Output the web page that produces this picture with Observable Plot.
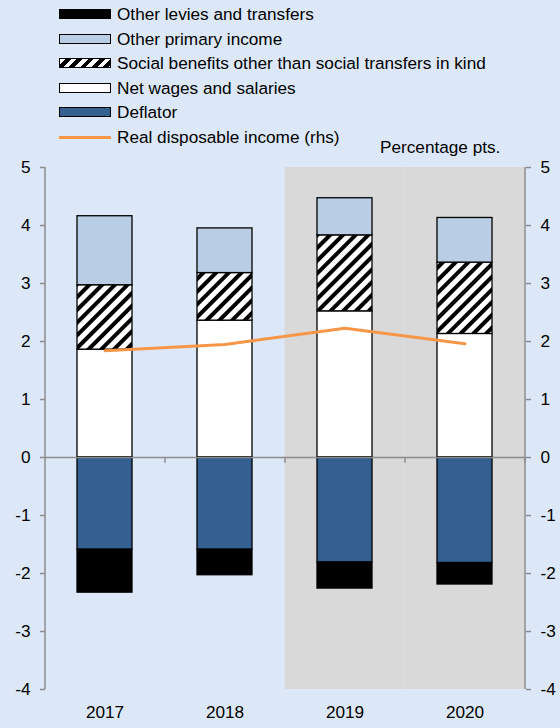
<!DOCTYPE html>
<html>
<head>
<meta charset="utf-8">
<script src="https://cdn.jsdelivr.net/npm/d3@7"></script>
<script src="https://cdn.jsdelivr.net/npm/@observablehq/plot@0.6"></script>
<style>
  html, body { margin: 0; padding: 0; background: #dce8f7; }
  body { width: 560px; height: 728px; position: relative; overflow: hidden;
         font-family: "Liberation Sans", Arial, sans-serif; color: #000; }
  #legend { position: absolute; left: 0; top: 0; width: 560px; height: 155px; }
  .item { position: absolute; left: 59px; height: 20px; display: flex; align-items: center; font-size: 17.2px; white-space: nowrap; }
  .sw { width: 50px; height: 8px; border: 1px solid #000; margin-right: 6px; box-sizing: content-box; }
  .swline { width: 52px; height: 3px; margin-right: 6px; }
  #unit { position: absolute; left: 380px; top: 137px; font-size: 17.2px; }
  #chart { position: absolute; left: 0; top: 155px; }
</style>
</head>
<body>
<div id="legend"></div>
<div id="unit">Percentage pts.</div>
<div id="chart"></div>
<script>
// ---- data ----
const years = ["2017", "2018", "2019", "2020"];
const wages = [1.86, 2.36, 2.52, 2.13];              // Net wages and salaries
const socialBenefits = [1.11, 0.82, 1.31, 1.23];      // Social benefits other than social transfers in kind
const otherPrimary = [1.19, 0.77, 0.64, 0.77];        // Other primary income
const deflator = [-1.59, -1.59, -1.81, -1.82];        // Deflator
const levies = [-0.74, -0.44, -0.45, -0.37];          // Other levies and transfers
const realIncome = [1.84, 1.95, 2.23, 1.96];          // Real disposable income (rhs)
const shadedYears = ["2019", "2020"];
const yTicks = [-4, -3, -2, -1, 0, 1, 2, 3, 4, 5];

const seriesNames = [
  "Net wages and salaries",
  "Social benefits other than social transfers in kind",
  "Other primary income",
  "Deflator",
  "Other levies and transfers"
];
const seriesValues = [wages, socialBenefits, otherPrimary, deflator, levies];
const seriesFills = ["#ffffff", "url(#hatch)", "#b9cde5", "#335f91", "#000000"];
const lineName = "Real disposable income (rhs)";
const lineColor = "#f79646";

const legendOrder = [
  "Other levies and transfers",
  "Other primary income",
  "Social benefits other than social transfers in kind",
  "Net wages and salaries",
  "Deflator"
];

// ---- long table ----
const rows = [];
seriesNames.forEach((s, i) => years.forEach((y, j) => rows.push({year: y, series: s, value: seriesValues[i][j]})));
const lineRows = years.map((y, j) => ({year: y, value: realIncome[j]}));

// ---- legend ----
const legend = document.getElementById("legend");
const legendTops = [4, 29, 53, 78, 102, 127];
legendOrder.forEach((name, k) => {
  const fill = seriesFills[seriesNames.indexOf(name)];
  const div = document.createElement("div");
  div.className = "item";
  div.style.top = legendTops[k] + "px";
  const sw = document.createElement("span");
  sw.className = "sw";
  if (fill.startsWith("url")) {
    sw.style.background = "repeating-linear-gradient(135deg, #fff 0 4px, #000 4px 8px)";
  } else {
    sw.style.background = fill;
  }
  div.appendChild(sw);
  div.appendChild(document.createTextNode(name));
  legend.appendChild(div);
});
{
  const div = document.createElement("div");
  div.className = "item";
  div.style.top = legendTops[5] + "px";
  const sw = document.createElement("span");
  sw.className = "swline";
  sw.style.background = lineColor;
  div.appendChild(sw);
  div.appendChild(document.createTextNode(lineName));
  legend.appendChild(div);
}

// ---- chart ----
const W = 560, H = 573;
const mL = 45, mR = 35;
const step = (W - mL - mR) / years.length;
const padIn = 0.54;
const halfGap = step * padIn / 2;

const chart = Plot.plot({
  width: W,
  height: H,
  marginLeft: mL,
  marginRight: mR,
  marginTop: 12,
  marginBottom: 39,
  style: {background: "transparent", fontSize: "17.2px", fontFamily: "'Liberation Sans', Arial, sans-serif", color: "#000"},
  x: {domain: years, paddingInner: padIn, paddingOuter: padIn / 2, label: null},
  y: {domain: [-4, 5], label: null},
  color: {domain: seriesNames, range: seriesFills},
  marks: [
    // shaded forecast region
    Plot.barY(shadedYears, {x: d => d, y1: -4, y2: 5, fill: "#d9d9d9", insetLeft: -halfGap, insetRight: -halfGap}),
    // stacked bars
    Plot.barY(rows, Plot.stackY({order: seriesNames}, {x: "year", y: "value", z: "series", fill: "series", stroke: "#000", strokeWidth: 1.3})),
    // zero line and category ticks
    Plot.ruleY([0], {stroke: "#8c8c8c", strokeWidth: 1.5}),
    Plot.ruleX(years, {x: d => d, y1: 0, y2: -0.1, dx: step / 2, stroke: "#8c8c8c", strokeWidth: 1.5}),
    // axis lines
    Plot.ruleX([years[0]], {x: d => d, y1: -4, y2: 5, dx: -step / 2, stroke: "#8c8c8c", strokeWidth: 1.5}),
    Plot.ruleX([years[years.length - 1]], {x: d => d, y1: -4, y2: 5, dx: step / 2, stroke: "#8c8c8c", strokeWidth: 1.5}),
    // line
    Plot.line(lineRows, {x: "year", y: "value", stroke: lineColor, strokeWidth: 3}),
    // axes
    Plot.axisY(yTicks, {anchor: "left", tickSize: 5, tickPadding: 10, stroke: "#8c8c8c", strokeWidth: 1.5, fill: "#000", tickFormat: d => String(d)}),
    Plot.axisY(yTicks, {anchor: "right", tickSize: 5, tickPadding: 10, stroke: "#8c8c8c", strokeWidth: 1.5, fill: "#000", tickFormat: d => String(d)}),
    Plot.axisX({anchor: "bottom", tickSize: 0, tickPadding: 16, fill: "#000"})
  ]
});

// hatch pattern definition
const svg = d3.select(chart);
const defs = svg.insert("defs", ":first-child");
const pat = defs.append("pattern")
  .attr("id", "hatch")
  .attr("patternUnits", "userSpaceOnUse")
  .attr("width", 9).attr("height", 9)
  .attr("patternTransform", "rotate(45)");
pat.append("rect").attr("width", 9).attr("height", 9).attr("fill", "#fff");
pat.append("rect").attr("x", 0).attr("width", 4).attr("height", 9).attr("fill", "#000");

document.getElementById("chart").appendChild(chart);
</script>
</body>
</html>
